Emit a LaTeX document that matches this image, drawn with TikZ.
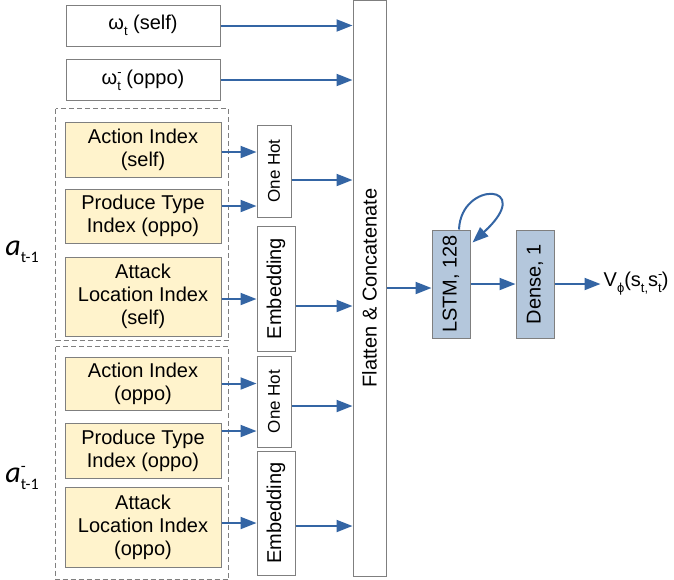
\documentclass[tikz,border=0pt]{standalone}
\usepackage{fontspec}
\setmainfont{Liberation Sans}
\newfontfamily\calibrifont{Carlito}
\usetikzlibrary{positioning,arrows.meta}
\definecolor{boxgray}{HTML}{7F7F7F}
\definecolor{arrowblue}{HTML}{3465A4}
\definecolor{inputyellow}{HTML}{FFF3CC}
\definecolor{layerblue}{HTML}{B4C7DC}
\newcommand{\lowsub}[1]{\raisebox{-6pt}{\fontsize{13}{13}\selectfont #1}}
\newcommand{\highsup}[1]{\rlap{\raisebox{8pt}{\fontsize{13}{13}\selectfont #1}}}
\tikzset{obs/.style={draw=boxgray,line width=1pt,fill=white,minimum width=154pt,minimum height=41pt,inner sep=0pt,font=\fontsize{20}{23}\selectfont}}
\tikzset{action input/.style={obs,fill=inputyellow,minimum width=156pt,align=center}}
\tikzset{layer/.style={obs,rotate=90,minimum height=38pt}}
\tikzset{encoder/.style={layer,minimum height=34pt,font=\fontsize{17}{20}\selectfont}}
\tikzset{rnn layer/.style={layer,fill=layerblue,minimum width=108pt}}
\tikzset{flow/.style={draw=arrowblue,line width=2pt,-{Triangle[length=16pt,width=12pt]}}}
\tikzset{group/.style={draw=boxgray,line width=1pt,dash pattern=on 5pt off 3pt}}
\tikzset{prev action/.style={inner sep=0pt,font=\calibrifont\itshape\fontsize{30}{30}\selectfont}}

\begin{document}
\begin{tikzpicture}[x=1pt,y=-1pt,node distance=11pt]
\useasboundingbox (0,0) rectangle (674,579);

%Observations
\node[obs] (selfobs) at (143,25.5) {ω\lowsub{t} (self)};
\node[obs] (oppoobs) at (143,80) {ω\highsup{-}\lowsub{t} (oppo)};

%Own last action
\node[action input,minimum height=55pt] (actself) at (143,149.5) {Action Index\\(self)};
\node[action input,minimum height=54pt] (prodself) [below=11pt of actself] {Produce Type\\Index (oppo)};
\node[action input,minimum height=79pt] (attself) [below=13pt of prodself] {Attack\\Location Index\\(self)};

%Opponent last action
\node[action input,minimum height=53pt] (actoppo) at (143,383.5) {Action Index\\(oppo)};
\node[action input,minimum height=55pt] (prodoppo) [below=12pt of actoppo] {Produce Type\\Index (oppo)};
\node[action input,minimum height=80pt] (attoppo) [below=8pt of prodoppo] {Attack\\Location Index\\(oppo)};

\draw[group] ([shift={(-9pt,13pt)}]actself.north west) rectangle ([shift={(7pt,-4pt)}]attself.south east);
\draw[group] ([shift={(-9pt,10pt)}]actoppo.north west) rectangle ([shift={(7pt,-12pt)}]attoppo.south east);

\node[prev action] (prevself) at (22,252) {a\raisebox{-7pt}{\upshape\fontsize{16}{16}\selectfont t-1}};
\node[prev action] (prevoppo) at (22,478) {a\rlap{\raisebox{11pt}{\upshape\fontsize{16}{16}\selectfont -}}\raisebox{-7pt}{\upshape\fontsize{16}{16}\selectfont t-1}};

%Encoders
\node[encoder,minimum width=92pt] (onehotself) at (274,171) {One Hot};
\node[layer,minimum width=125pt] (embedself) at (276,288.5) {Embedding};
\node[encoder,minimum width=91pt] (onehotoppo) at (274,401.5) {One Hot};
\node[layer,minimum width=124pt] (embedoppo) at (276,513) {Embedding};

%Network
\node[layer,minimum width=576pt,minimum height=33pt] (flatten) at (369.5,288) {Flatten \& Concatenate};
\node[rnn layer] (lstm) at (451,284) {LSTM, 128};
\node[rnn layer] (dense) at (535,284) {Dense, 1};
\node[inner sep=3pt,font=\fontsize{20}{23}\selectfont] (value) [right=46pt of dense.south] {V\lowsub{ϕ}(s\lowsub{t,}s\highsup{-}\lowsub{t})};

%Connections
\draw[flow] (selfobs.east) -- (selfobs.east -| flatten.north);
\draw[flow] (oppoobs.east) -- (oppoobs.east -| flatten.north);

\draw[flow] ([yshift=-2.5pt]actself.east) -- ([yshift=-2.5pt]actself.east -| onehotself.north);
\draw[flow] ([yshift=10pt]prodself.east) -- ([yshift=10pt]prodself.east -| onehotself.north);
\draw[flow] ([yshift=-2.5pt]attself.east) -- ([yshift=-2.5pt]attself.east -| embedself.north);
\draw[flow] (actoppo.east) -- (actoppo.east -| onehotoppo.north);
\draw[flow] ([yshift=19.5pt]prodoppo.east) -- ([yshift=19.5pt]prodoppo.east -| onehotoppo.north);
\draw[flow] ([yshift=4pt]attoppo.east) -- ([yshift=4pt]attoppo.east -| embedoppo.north);

\draw[flow] ([yshift=-9pt]onehotself.south) -- ([yshift=-9pt]onehotself.south -| flatten.north);
\draw[flow] ([yshift=-17.5pt]embedself.south) -- ([yshift=-17.5pt]embedself.south -| flatten.north);
\draw[flow] ([yshift=-4.5pt]onehotoppo.south) -- ([yshift=-4.5pt]onehotoppo.south -| flatten.north);
\draw[flow] ([yshift=-13pt]embedoppo.south) -- ([yshift=-13pt]embedoppo.south -| flatten.north);

\draw[flow] (flatten.south) -- (flatten.south -| lstm.north);
\draw[flow] (lstm.south) -- (dense.north);
\draw[flow] (dense.south) -- (value.west);
\draw[flow] ([xshift=8pt]lstm.east) .. controls ([shift={(10pt,50pt)}]lstm.east) and ([shift={(86pt,46pt)}]lstm.east) .. ([shift={(2pt,-13pt)}]lstm.south east);

\end{tikzpicture}
\end{document}
